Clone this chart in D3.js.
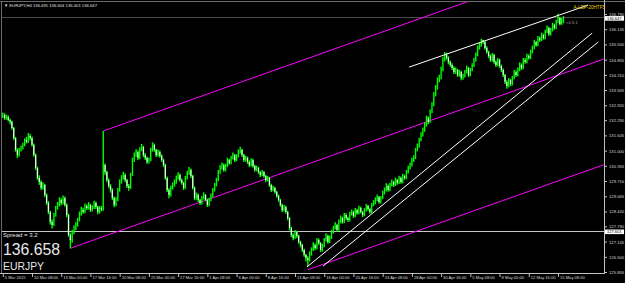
<!DOCTYPE html>
<html lang="en">
<head>
<meta charset="utf-8" />
<title>EURJPY,H4</title>
<style>
  body { margin: 0; padding: 0; background: #000; }
  svg { display: block; }
  text { font-family: 'Liberation Sans', Arial, sans-serif; }
</style>
<script src="https://d3js.org/d3.v7.min.js"></script>
</head>
<body>
<div id="chart"></div>
<script>
// H4 bars, index 4 = 5 Mar 2015 16:00 (index 0 = 5 Mar 00:00)
const firstBar = 4;
const firstOpen = 132.45;
const closes = [
  132.51,132.38,132.43,132.30,132.22,131.96,131.53,131.03,130.81,131.03,
  131.11,131.24,131.45,131.37,131.62,131.53,131.24,130.81,130.26,129.84,
  129.67,129.42,129.54,129.12,128.78,128.40,127.98,127.85,128.27,128.57,
  128.70,128.91,128.78,128.99,128.70,128.27,127.42,127.21,127.55,127.72,
  127.85,128.06,128.31,128.48,128.40,128.65,128.57,128.70,128.48,128.57,
  128.78,128.61,128.40,128.57,128.50,130.39,130.09,129.75,129.50,129.33,
  128.99,128.70,128.91,129.33,129.67,129.84,129.97,129.75,129.50,129.42,
  129.97,130.60,130.81,130.94,130.69,131.03,131.15,130.81,130.69,130.52,
  130.60,131.03,131.24,131.03,130.81,130.94,130.77,130.60,130.39,129.84,
  129.33,129.12,129.42,129.54,129.67,129.84,129.97,129.75,129.63,129.42,
  129.84,130.05,130.18,129.92,129.42,128.99,129.12,128.91,128.78,128.99,
  129.12,128.91,128.70,128.91,129.08,129.33,129.54,129.75,130.09,130.26,
  130.39,130.18,130.35,130.60,130.47,130.69,130.81,130.60,130.77,130.94,
  131.03,130.81,130.60,130.69,130.52,130.39,130.60,130.35,130.18,130.26,
  130.09,129.97,130.09,129.92,129.75,129.84,129.54,129.33,129.42,129.25,
  129.08,128.91,128.70,128.48,128.61,128.40,128.14,127.72,127.42,127.30,
  127.55,127.38,127.13,127.00,126.79,126.58,126.45,126.36,126.62,126.79,
  127.00,126.87,127.21,127.08,126.79,126.96,127.21,127.38,127.13,127.30,
  127.55,127.72,127.85,127.64,127.98,128.14,127.98,128.27,128.14,128.06,
  128.31,128.40,128.23,128.48,128.35,128.57,128.40,128.27,128.48,128.65,
  128.52,128.40,128.70,128.78,128.91,129.03,128.82,128.99,129.20,129.33,
  129.50,129.33,129.54,129.67,129.54,129.75,129.63,129.84,129.67,129.92,
  129.84,130.09,130.26,130.39,130.60,130.69,131.03,131.19,131.45,131.66,
  131.87,132.09,132.38,132.22,132.64,132.93,133.36,133.65,133.99,134.08,
  134.42,134.84,135.05,134.93,134.76,134.63,134.50,134.33,134.42,134.20,
  134.33,134.08,134.16,134.33,134.50,134.20,134.42,134.59,134.84,135.05,
  135.35,135.47,135.69,135.60,135.35,135.18,135.01,134.84,135.05,134.76,
  134.63,134.84,134.59,134.42,134.20,133.91,133.74,133.99,133.82,134.08,
  134.33,134.20,134.42,134.63,134.50,134.84,134.76,135.01,134.93,135.18,
  135.35,135.60,135.47,135.77,135.69,135.90,135.77,136.03,136.20,135.94,
  136.11,136.32,136.20,136.45,136.62,136.37,136.54,136.65
];
const highs = [
  132.62,132.58,132.52,132.49,132.36,132.27,132.00,131.58,131.10,131.12,
  131.22,131.33,131.52,131.58,131.75,131.70,131.60,131.30,130.88,130.32,
  129.95,129.74,129.66,129.60,129.18,128.86,128.45,128.08,128.36,128.66,
  128.82,129.02,128.98,129.10,129.05,128.76,128.33,127.50,127.64,127.83,
  127.96,128.15,128.42,128.62,128.58,128.76,128.72,128.82,128.75,128.68,
  128.88,128.84,128.66,128.65,128.66,131.83,130.45,130.15,129.82,129.58,
  129.40,129.05,129.02,129.42,129.78,129.96,130.10,130.04,129.80,129.58,
  130.06,130.70,130.92,131.06,131.00,131.14,131.28,131.20,130.90,130.75,
  130.70,131.12,131.35,131.30,131.08,131.05,131.00,130.84,130.66,130.45,
  129.90,129.40,129.52,129.65,129.78,129.95,130.08,130.03,129.82,129.68,
  129.93,130.15,130.30,130.24,129.98,129.48,129.22,129.18,128.96,129.08,
  129.23,129.16,128.97,129.00,129.18,129.42,129.63,129.85,130.18,130.38,
  130.50,130.45,130.44,130.70,130.66,130.78,130.92,130.86,130.85,131.05,
  131.16,131.08,130.87,130.78,130.75,130.58,130.68,130.65,130.40,130.36,
  130.31,130.14,130.18,130.14,129.98,129.93,129.89,129.60,129.52,129.47,
  129.30,129.14,128.96,128.75,128.70,128.66,128.45,128.18,127.78,127.50,
  127.64,127.60,127.43,127.18,127.05,126.84,126.62,126.52,126.72,126.90,
  127.12,127.06,127.30,127.28,127.12,127.05,127.30,127.50,127.44,127.40,
  127.64,127.82,127.96,127.90,128.08,128.25,128.20,128.36,128.34,128.20,
  128.40,128.50,128.46,128.57,128.54,128.66,128.62,128.45,128.56,128.74,
  128.70,128.58,128.78,128.90,129.02,129.14,129.08,129.08,129.30,129.44,
  129.62,129.56,129.64,129.78,129.72,129.85,129.80,129.93,129.90,130.02,
  129.98,130.18,130.36,130.50,130.70,130.80,131.12,131.30,131.55,131.78,
  131.98,132.20,132.48,132.45,132.74,133.05,133.48,133.78,134.10,134.22,
  134.55,134.98,135.18,135.15,135.00,134.82,134.70,134.58,134.52,134.47,
  134.42,134.38,134.26,134.42,134.60,134.55,134.50,134.70,134.94,135.16,
  135.45,135.58,135.74,135.70,135.66,135.42,135.24,135.08,135.14,135.10,
  134.82,134.92,134.90,134.65,134.48,134.25,133.98,134.08,134.04,134.16,
  134.42,134.40,134.52,134.74,134.70,134.93,134.92,135.10,135.08,135.28,
  135.45,135.70,135.65,135.86,135.84,136.00,135.96,136.12,136.30,136.25,
  136.20,136.42,136.38,136.55,136.80,136.66,136.62,136.70
];
const lows = [
  132.38,132.30,132.31,132.24,132.12,131.88,131.45,130.95,130.68,130.75,
  130.96,131.05,131.18,131.30,131.33,131.44,131.17,130.74,130.18,129.76,
  129.55,129.33,129.35,129.02,128.70,128.31,127.87,127.70,127.80,128.20,
  128.50,128.63,128.68,128.72,128.62,128.18,127.35,126.86,127.10,127.46,
  127.62,127.78,128.00,128.25,128.32,128.35,128.48,128.50,128.40,128.42,
  128.52,128.53,128.30,128.33,128.42,128.45,129.98,129.66,129.40,129.22,
  128.90,128.60,128.64,128.85,129.26,129.60,129.78,129.66,129.42,129.30,
  129.38,129.92,130.52,130.74,130.60,130.63,130.98,130.72,130.60,130.43,
  130.45,130.55,130.96,130.95,130.72,130.75,130.70,130.52,130.30,129.76,
  129.25,128.98,129.05,129.35,129.47,129.60,129.78,129.68,129.55,129.33,
  129.38,129.78,129.98,129.84,129.35,128.90,128.92,128.82,128.70,128.72,
  128.93,128.85,128.61,128.64,128.85,129.02,129.27,129.48,129.70,130.02,
  130.20,130.10,130.12,130.30,130.40,130.42,130.62,130.52,130.55,130.71,
  130.88,130.73,130.52,130.54,130.44,130.30,130.33,130.27,130.10,130.12,
  130.01,129.88,129.92,129.85,129.66,129.70,129.46,129.25,129.28,129.17,
  129.00,128.83,128.62,128.40,128.42,128.32,128.05,127.62,127.33,127.20,
  127.25,127.30,127.05,126.90,126.70,126.50,126.30,126.10,126.30,126.55,
  126.74,126.78,126.82,127.00,126.70,126.72,126.90,127.15,127.05,127.08,
  127.25,127.48,127.66,127.56,127.60,127.92,127.90,127.93,128.06,127.97,
  128.00,128.25,128.15,128.18,128.28,128.30,128.33,128.18,128.22,128.42,
  128.45,128.32,128.35,128.64,128.72,128.85,128.75,128.76,128.94,129.14,
  129.27,129.26,129.28,129.48,129.46,129.50,129.55,129.58,129.60,129.62,
  129.76,129.80,130.03,130.20,130.33,130.52,130.64,130.97,131.12,131.40,
  131.60,131.80,132.02,132.12,132.18,132.58,132.88,133.30,133.58,133.90,
  134.02,134.36,134.78,134.85,134.66,134.55,134.42,134.25,134.26,134.12,
  134.14,133.98,134.00,134.10,134.27,134.12,134.15,134.36,134.54,134.78,
  135.00,135.28,135.40,135.52,135.27,135.10,134.92,134.76,134.78,134.68,
  134.54,134.58,134.50,134.33,134.12,133.82,133.62,133.68,133.74,133.76,
  134.02,134.12,134.15,134.36,134.42,134.45,134.68,134.70,134.85,134.88,
  135.12,135.30,135.40,135.42,135.60,135.64,135.70,135.72,135.98,135.86,
  135.88,136.05,136.12,136.15,136.40,136.30,136.33,136.40
];

const priceTicks = [136.790,136.145,135.500,134.855,134.210,133.565,132.920,132.290,131.645,
  131.000,130.355,129.710,129.065,128.420,127.790,127.145,126.500,125.855];
const timeBars = [4,20,36,52,68,84,100,116,132,148,164,180,196,212,228,244,260,276,292,308];
const timeLabels = ["5 Mar 2015","10 Mar 08:00","13 Mar 00:00","17 Mar 16:00","20 Mar 08:00",
  "25 Mar 00:00","27 Mar 16:00","1 Apr 08:00","6 Apr 00:00","8 Apr 16:00","13 Apr 08:00",
  "16 Apr 00:00","20 Apr 16:00","23 Apr 08:00","28 Apr 00:00","30 Apr 16:00","5 May 08:00",
  "8 May 00:00","12 May 16:00","15 May 08:00"];

// drawn objects, [bar index, price]
const channelLines = [
  [[59, 131.83], [333, 139.36]],
  [[41, 126.86], [333, 134.88]],
  [[171, 125.95], [333, 130.40]]
];
const trendLines = [
  [[226.5, 134.54], [324.5, 137.17]],
  [[170.6, 126.07], [326.7, 135.98]],
  [[179.4, 126.11], [330, 135.60]]
];
const bidPrice = 136.647;
const hLevel = 127.601;

const W = 625, H = 283;
const plotR = 604, plotB = 273;

const xs = d3.scaleLinear().domain([20, 308]).range([32, 558]);
const ys = d3.scaleLinear().domain([125.855, 136.790]).range([272, 14]);

const svg = d3.select("#chart").append("svg")
  .attr("width", W).attr("height", H)
  .style("background", "#000");

svg.append("defs").append("clipPath").attr("id", "plot")
  .append("rect").attr("x", 2).attr("y", 2).attr("width", plotR - 2).attr("height", plotB - 2);

// window frame
svg.append("line").attr("x1", 0).attr("x2", W).attr("y1", 1.5).attr("y2", 1.5).attr("stroke", "#6a6a6a");
svg.append("line").attr("x1", 1.5).attr("x2", 1.5).attr("y1", 1).attr("y2", plotB).attr("stroke", "#6a6a6a");

const g = svg.append("g").attr("clip-path", "url(#plot)");

// horizontal price lines
g.append("line").attr("x1", 0).attr("x2", plotR).attr("y1", Math.round(ys(bidPrice)) + 0.5)
  .attr("y2", Math.round(ys(bidPrice)) + 0.5).attr("stroke", "#4a4a4a");
g.append("line").attr("x1", 0).attr("x2", plotR).attr("y1", Math.round(ys(hLevel)) + 0.5)
  .attr("y2", Math.round(ys(hLevel)) + 0.5).attr("stroke", "#c8c8c8");

const line = d3.line().x(d => xs(d[0])).y(d => ys(d[1]));

g.selectAll("path.chan").data(channelLines).join("path")
  .attr("class", "chan").attr("d", line)
  .attr("fill", "none").attr("stroke", "#ff00ff").attr("stroke-width", 1);

// bars
const bars = closes.map((c, k) => ({
  i: firstBar + k, o: k ? closes[k - 1] : firstOpen, h: highs[k], l: lows[k], c: c
}));

g.selectAll("line.bar").data(bars).join("line")
  .attr("class", "bar")
  .attr("x1", d => xs(d.i)).attr("x2", d => xs(d.i))
  .attr("y1", d => ys(d.h)).attr("y2", d => ys(d.l))
  .attr("stroke", "#00ff00").attr("stroke-width", 1.4);

g.selectAll("rect.bear").data(bars.filter(d => d.c < d.o)).join("rect")
  .attr("class", "bear")
  .attr("x", d => xs(d.i) - 0.6).attr("width", 1.2)
  .attr("y", d => ys(d.o)).attr("height", d => Math.max(1, ys(d.c) - ys(d.o)))
  .attr("fill", "#e4ffe4");

g.selectAll("path.trend").data(trendLines).join("path")
  .attr("class", "trend").attr("d", line)
  .attr("fill", "none").attr("stroke", "#ffffff").attr("stroke-width", 1);

// right price axis
const yAxis = d3.axisRight(ys).tickValues(priceTicks)
  .tickFormat(d => d.toFixed(3)).tickSize(3).tickSizeOuter(0);
const ya = svg.append("g").attr("transform", `translate(${plotR},0)`).call(yAxis);
ya.select(".domain").remove();
ya.selectAll(".tick line").attr("stroke", "#c0c0c0");
ya.selectAll(".tick text").attr("x", 5).attr("fill", "#d8d8d8")
  .style("font-size", "4.2px").attr("dy", "0.35em");

// bottom time axis
const xAxis = d3.axisBottom(xs).tickValues(timeBars)
  .tickFormat((d, k) => timeLabels[k]).tickSize(4).tickSizeOuter(0);
const xa = svg.append("g").attr("transform", `translate(0,${plotB})`).call(xAxis);
xa.select(".domain").remove();
xa.selectAll(".tick line").attr("stroke", "#c0c0c0");
xa.selectAll(".tick text").attr("text-anchor", "start").attr("x", 1.5).attr("y", 3.5)
  .attr("fill", "#d8d8d8").style("font-size", "4.1px");

svg.append("line").attr("x1", plotR + 0.5).attr("x2", plotR + 0.5).attr("y1", 0).attr("y2", plotB + 1)
  .attr("stroke", "#c0c0c0");
svg.append("line").attr("x1", 0).attr("x2", plotR + 1).attr("y1", plotB + 0.5).attr("y2", plotB + 0.5)
  .attr("stroke", "#c0c0c0");

// price boxes on the axis
[[bidPrice, "136.647"], [hLevel, "127.601"]].forEach(([p, t]) => {
  const y = ys(p) + 1;
  svg.append("rect").attr("x", plotR + 1).attr("y", y - 2.3).attr("width", 19).attr("height", 4.6).attr("fill", "#ffffff");
  svg.append("text").attr("x", plotR + 3).attr("y", y + 1.4).attr("fill", "#000")
    .style("font-size", "4px").text(t);
});

// labels
svg.append("text").attr("x", 4).attr("y", 7).attr("fill", "#e0e0e0").style("font-size", "4.2px")
  .text("\u25BC EURJPY,H4  136.491 136.604 136.401 136.647");
svg.append("text").attr("x", 605).attr("y", 8.5).attr("text-anchor", "end").attr("fill", "#e8d000")
  .style("font-size", "4.6px").text("A-LEP-20HTF5");
svg.append("text").attr("x", 566).attr("y", 24).attr("fill", "#a0a0a0")
  .style("font-size", "4.2px").text("<0.5.1");
svg.append("text").attr("x", 3).attr("y", 237).attr("fill", "#e0e0e0")
  .style("font-size", "6px").text("Spread = 3.2");
svg.append("text").attr("x", 3).attr("y", 255).attr("fill", "#e8e8e8")
  .style("font-size", "15.8px").text("136.658");
svg.append("text").attr("x", 3).attr("y", 269.5).attr("fill", "#e8e8e8")
  .style("font-size", "10.4px").text("EURJPY");
</script>
</body>
</html>
